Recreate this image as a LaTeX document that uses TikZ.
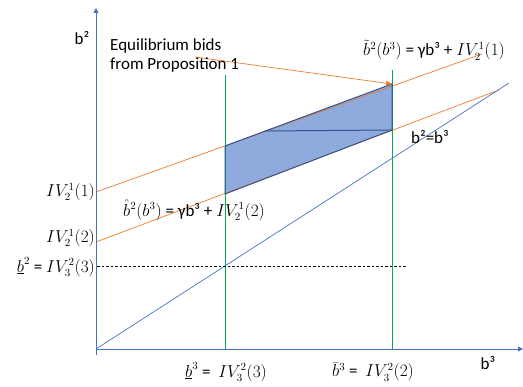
\documentclass[tikz,border=0pt]{standalone}
\usepackage{fontspec}
\setmainfont{Carlito}
\usetikzlibrary{arrows.meta}
\definecolor{axblue}{RGB}{68,114,196}
\definecolor{orng}{RGB}{237,125,49}
\definecolor{grn}{RGB}{0,176,80}
\definecolor{fillb}{RGB}{143,170,220}
\definecolor{edgeb}{RGB}{47,85,151}
\newcommand{\mth}[1]{{\fontsize{16}{18}\selectfont$#1$}}
\tikzset{
  axis/.style={axblue, line width=0.9pt, -{Triangle[length=5pt,width=5pt]}},
  orline/.style={orng, line width=0.7pt},
  grline/.style={grn, line width=0.7pt},
  lbl/.style={font=\fontsize{17}{20}\selectfont, inner sep=0pt},
}
\begin{document}
\begin{tikzpicture}[x=1pt,y=-1pt]
\useasboundingbox (0,0) rectangle (523,387);
% coordinates
\coordinate (O) at (96,349);
\coordinate (ytop) at (96,8);
\coordinate (ybot) at (96,355);
\coordinate (xend) at (523,349);
\coordinate (diagEnd) at (509,83);
\coordinate (A) at (225,146);
\coordinate (B) at (392,84);
\coordinate (C) at (392,130);
\coordinate (D) at (225,194);
\coordinate (H) at (265,131);
\coordinate (u0) at (96,192);
\coordinate (u1) at (482,54);
\coordinate (l0) at (96,242);
\coordinate (l1) at (499,90);
\coordinate (g1b) at (225,349);
\coordinate (g1t) at (225,75);
\coordinate (g2b) at (392,349);
\coordinate (g2t) at (392,70);
\coordinate (d0) at (97,266);
\coordinate (d1) at (407,266);
\coordinate (arrS) at (195,57);
% shaded region
\fill[fillb] (A) -- (B) -- (C) -- (D) -- cycle;
% orange lines
\draw[orline] (u0) -- (u1);
\draw[orline] (l0) -- (l1);
% green lines
\draw[grline] (g1b) -- (g1t);
\draw[grline] (g2b) -- (g2t);
% region edges
\draw[edgeb, line width=1pt] (A) -- (B) -- (C) -- (D) -- cycle;
\draw[edgeb, line width=1pt] (H) -- (C);
% diagonal
\draw[axblue, line width=0.7pt] (O) -- (diagEnd);
% dashed
\draw[black, line width=0.6pt, dash pattern=on 2.5pt off 2pt] (d0) -- (d1);
% axes
\draw[axis] (ybot) -- (ytop);
\draw[axis] (O) -- (xend);
% arrow
\draw[orline, -{Triangle[length=6pt,width=5pt]}] (arrS) -- (B);
% labels
\node[lbl] (lb2) at (82,38) {b²};
\node[lbl, align=left, anchor=north west] (leq) at (110,38) {Equilibrium bids\\from Proposition 1};
\node[lbl] (ltil) at (434,50) {\mth{\tilde b^2(b^3)} = γb³ + \mth{IV_2^1(1)}};
\node[lbl] (ldiag) at (430,137) {b²=b³};
\node[lbl, anchor=east] (liv1) at (95,192) {\mth{IV_2^1(1)}};
\node[lbl, anchor=east] (liv2) at (95,238) {\mth{IV_2^1(2)}};
\node[lbl, anchor=east] (liv3) at (95,267) {\mth{\underline{b}^2} = \mth{IV_3^2(3)}};
\node[lbl, anchor=west] (lhat) at (123,210) {\mth{\hat b^2(b^3)} = γb³ + \mth{IV_2^1(2)}};
\node[lbl] (lx1) at (226,372) {\mth{\underline{b}^3} = \ \mth{IV_3^2(3)}};
\node[lbl] (lx2) at (373,372) {\mth{\bar b^3} = \ \mth{IV_3^2(2)}};
\node[lbl] (lb3) at (488,363) {b³};
\end{tikzpicture}
\end{document}
